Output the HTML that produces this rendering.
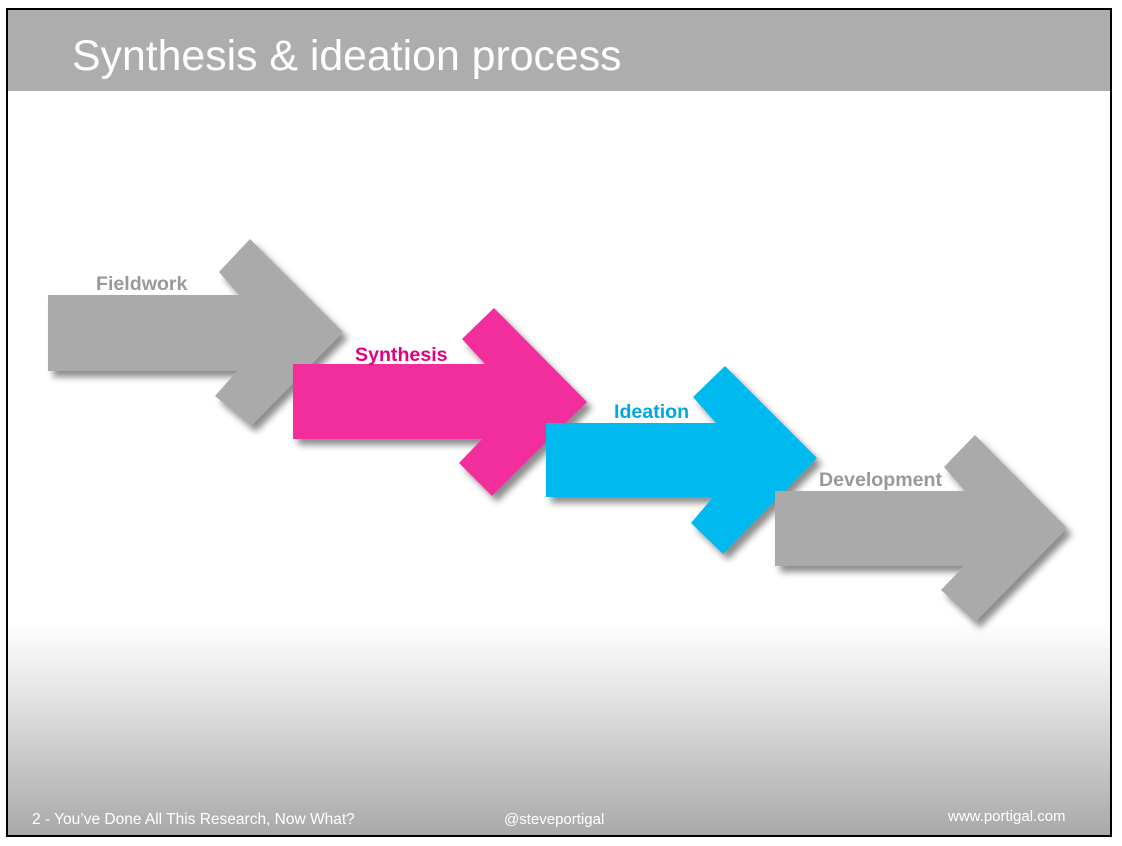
<!DOCTYPE html>
<html><head><meta charset="utf-8"><style>
body{margin:0;width:1122px;height:846px;background:#fff;overflow:hidden;font-family:"Liberation Sans",Arial,sans-serif}
#slide{position:absolute;left:6px;top:8px;width:1102px;height:825px;border:2px solid #000;background:linear-gradient(to bottom,#fff 0px,#fff 612px,#e6e6e6 680px,#c4c4c4 760px,#a9a9a9 825px);overflow:hidden}
#hdr{position:absolute;left:0;top:0;width:100%;height:81px;background:#adadad}
#title{position:absolute;left:64px;top:21px;color:#fff;font-size:42.8px;line-height:50px}
.ft{position:absolute;color:#fff;font-size:15.5px}
svg{position:absolute;left:0;top:0}
</style></head><body>
<div id="slide">
<div id="hdr"></div>
<div id="title">Synthesis &amp; ideation process</div>
<div class="ft" style="left:24px;top:801px">2 - You’ve Done All This Research, Now What?</div>
<div class="ft" style="left:496px;top:801px;font-size:15px">@steveportigal</div>
<div class="ft" style="left:940px;top:798px;font-size:15px">www.portigal.com</div>
</div>
<svg width="1122" height="846" viewBox="0 0 1122 846">
<defs><filter id="sh" x="-20%" y="-20%" width="140%" height="140%"><feDropShadow dx="5" dy="6" stdDeviation="3.5" flood-color="#000" flood-opacity="0.45"/></filter></defs>
<g filter="url(#sh)">
<polygon fill="#aaaaaa" points="48,295 239,295 219,272 250,239 343,332 251,426 215,396 237,371 48,371"/>
</g>
<text x="96" y="290" font-family="Liberation Sans,Arial,sans-serif" font-weight="bold" font-size="19.6" fill="#999">Fieldwork</text>
<g filter="url(#sh)">
<polygon fill="#f22e9c" points="293,364 485,364 462,339 494,308 587,402 492,496 459,463 482,439 293,439"/>
</g>
<text x="355" y="361" font-family="Liberation Sans,Arial,sans-serif" font-weight="bold" font-size="19.6" fill="#e2007f">Synthesis</text>
<g filter="url(#sh)">
<polygon fill="#00b9ef" points="546,423 716,423 693,397 725,366 817,458 723,554 691,523 713,497 546,497"/>
</g>
<text x="614" y="418" font-family="Liberation Sans,Arial,sans-serif" font-weight="bold" font-size="19.6" fill="#00a7e2">Ideation</text>
<g filter="url(#sh)">
<polygon fill="#aaaaaa" points="775,491 965,491 944,467 975,435 1067,528 975,622 941,590 964,566 775,566"/>
</g>
<text x="819" y="486" font-family="Liberation Sans,Arial,sans-serif" font-weight="bold" font-size="19.6" fill="#999">Development</text>
</svg>
</body></html>
